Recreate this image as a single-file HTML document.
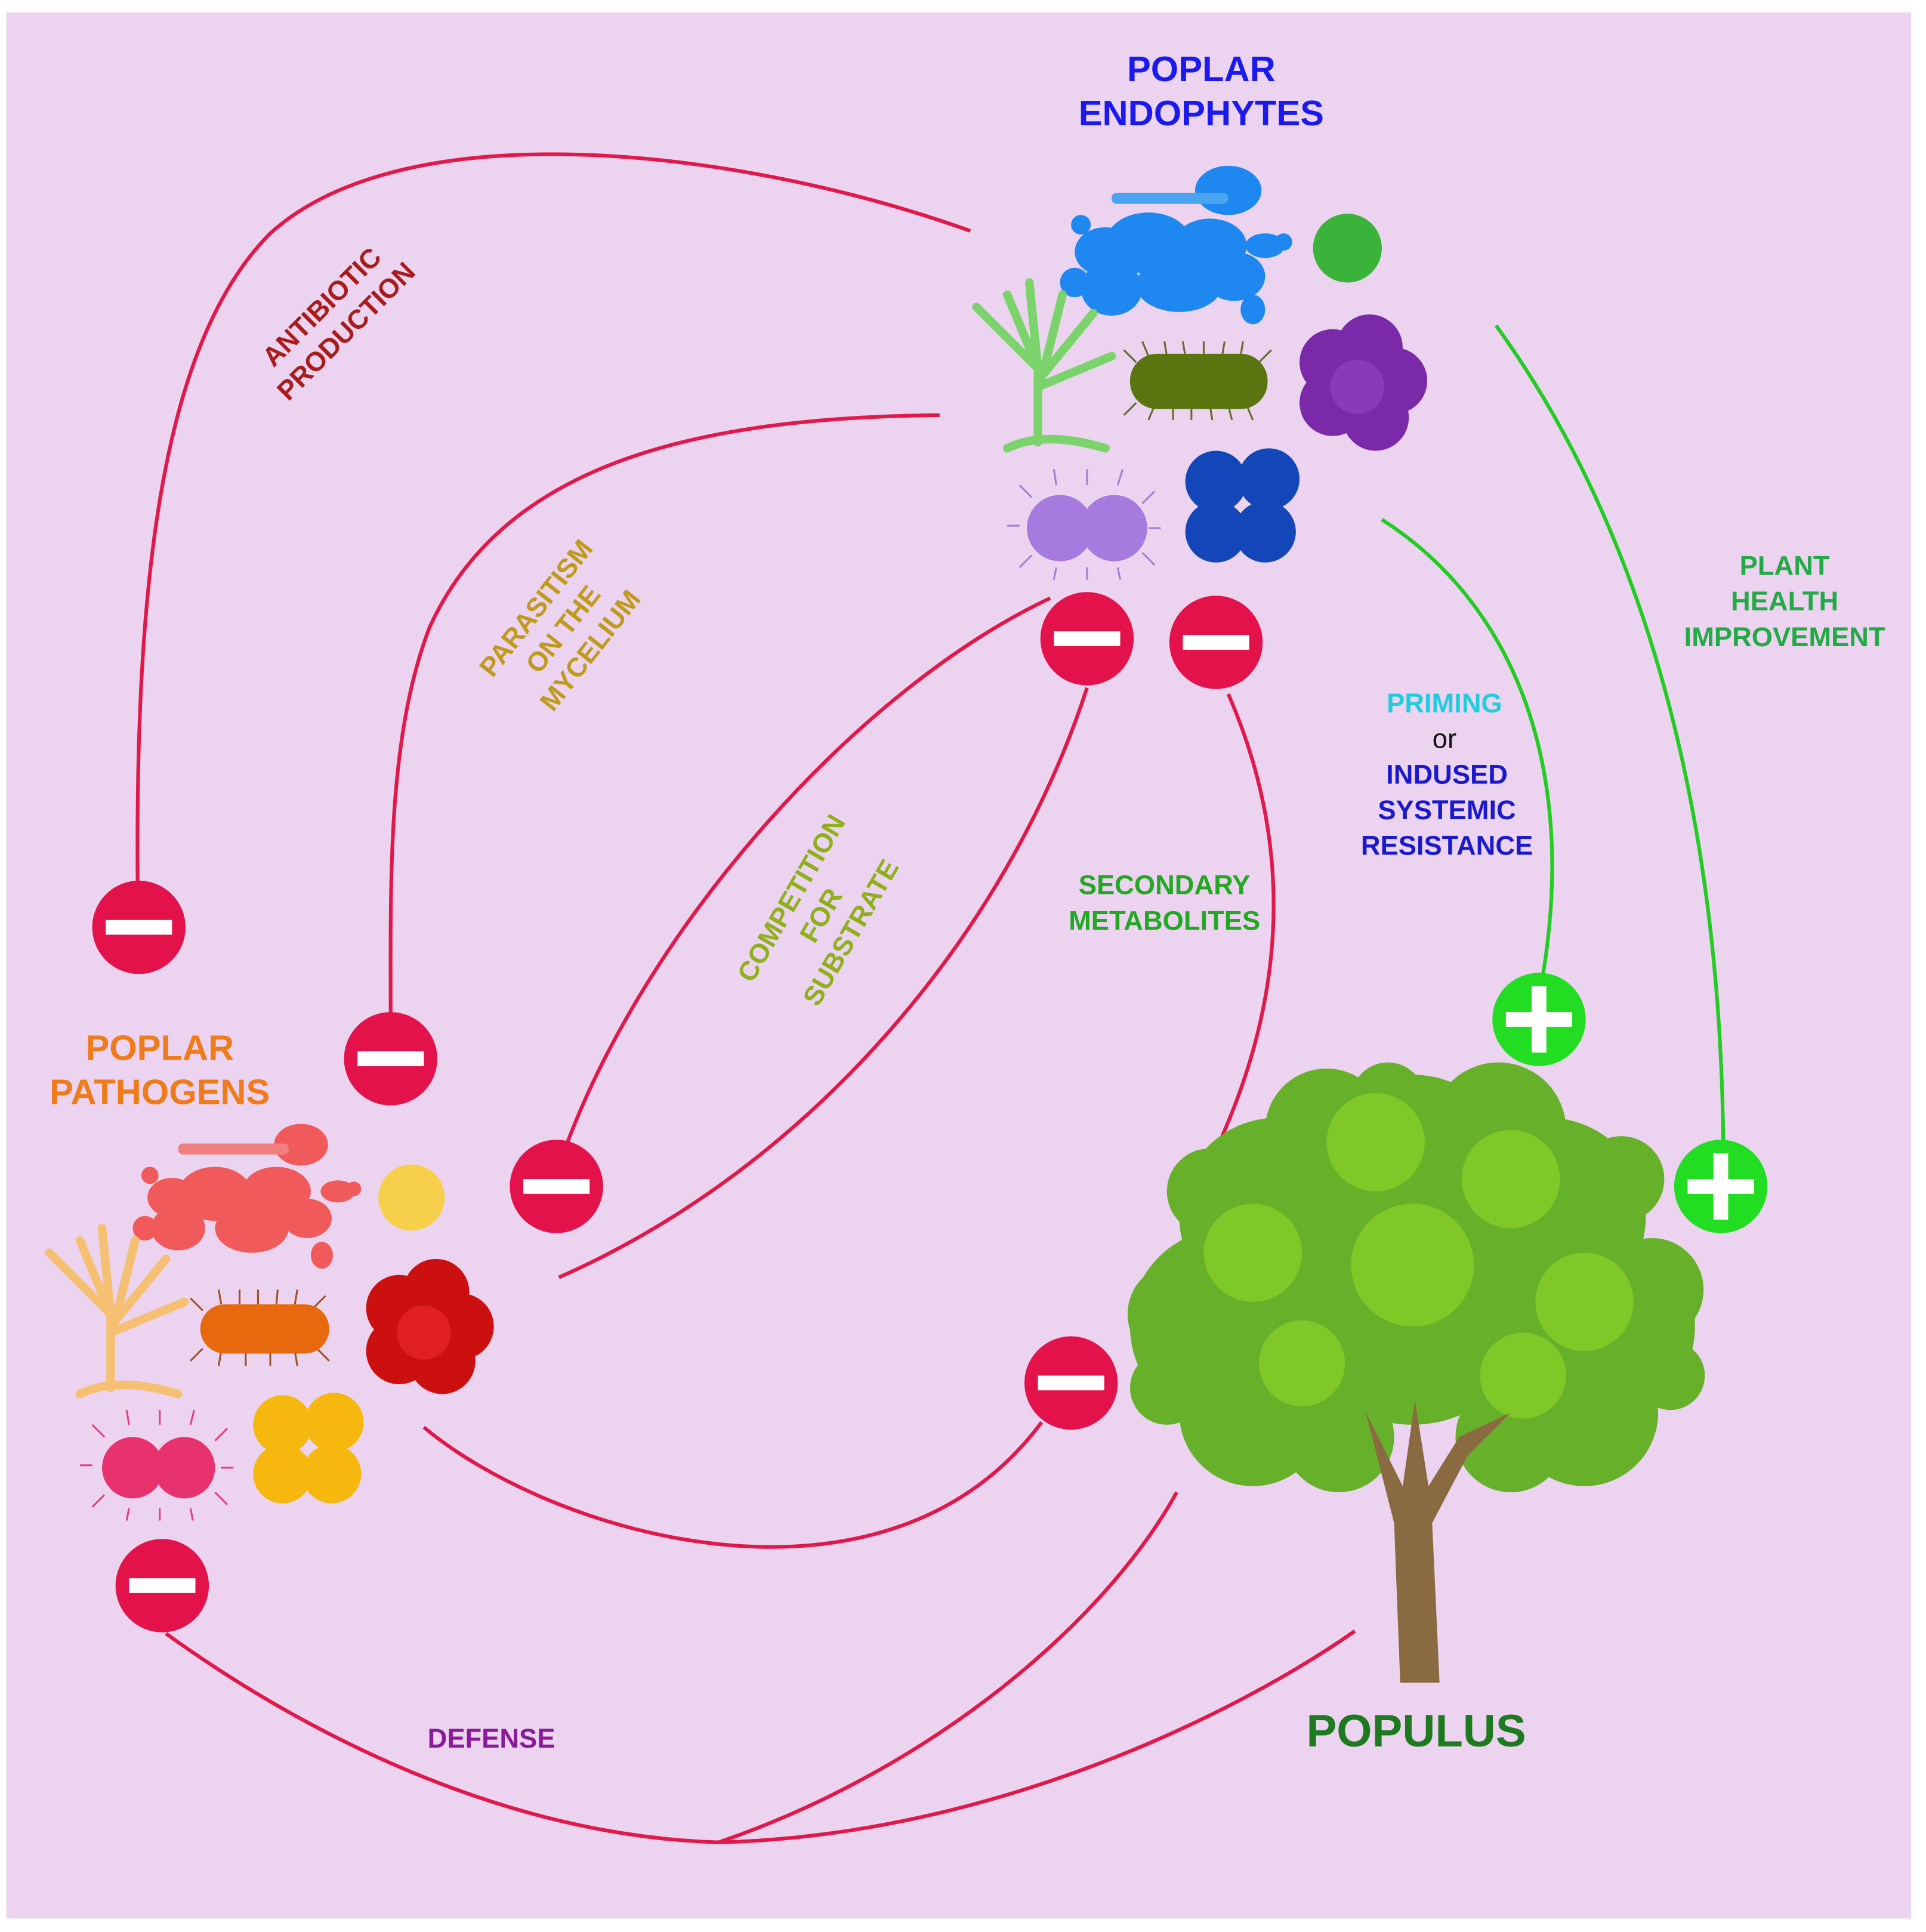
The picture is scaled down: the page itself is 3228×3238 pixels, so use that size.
<!DOCTYPE html>
<html><head><meta charset="utf-8"><style>html,body{margin:0;padding:0;background:#fff}svg{display:block}</style></head><body>
<svg width="3228" height="3238" viewBox="0 0 1568 1573" xmlns="http://www.w3.org/2000/svg" font-family="Liberation Sans, sans-serif" font-weight="bold">
<defs>
<g id="minus"><circle r="38" fill="#e3124b"/><rect x="-27" y="-6" width="54" height="12" fill="#fff"/></g>
<g id="plus"><circle r="38" fill="#22dd22"/><rect x="-27" y="-6" width="54" height="12" fill="#fff"/><rect x="-6" y="-27" width="12" height="54" fill="#fff"/></g>
</defs>
<rect x="0" y="0" width="1568" height="1573" fill="#fff"/>
<rect x="5" y="10" width="1551" height="1552" fill="#ecd4f0"/>

<g fill="none" stroke="#e0194a" stroke-width="3">
<path d="M790,188 C600,120 330,90 220,190 C130,280 110,480 112,720"/>
<path d="M765,338 C560,340 410,380 350,510 C315,600 318,720 318,825"/>
<path d="M855,487 C700,560 530,750 462,930"/>
<path d="M885,560 C820,760 660,950 455,1040"/>
<path d="M1000,565 C1050,680 1050,800 995,925"/>
<path d="M345,1162 C450,1250 720,1330 848,1158"/>
<path d="M135,1330 C260,1420 420,1495 585,1500 C800,1495 1000,1400 1103,1328"/>
<path d="M585,1500 C760,1440 900,1320 958,1215"/>
</g>
<g fill="none" stroke="#22cc22" stroke-width="3">
<path d="M1218,265 C1330,420 1400,640 1403,930"/>
<path d="M1125,423 C1230,490 1285,620 1256,795"/>
</g>

<g fill="#1e88f0">
<ellipse cx="1000" cy="155" rx="27" ry="20"/>
<rect x="905" y="157" width="95" height="9" rx="4" fill="#4aa4f0"/>
<ellipse cx="935" cy="198" rx="35" ry="25"/><ellipse cx="900" cy="205" rx="25" ry="20"/><ellipse cx="880" cy="183" rx="8" ry="8"/>
<ellipse cx="985" cy="200" rx="30" ry="22"/><ellipse cx="960" cy="232" rx="35" ry="22"/><ellipse cx="905" cy="235" rx="25" ry="22"/><ellipse cx="875" cy="230" rx="12" ry="12"/>
<ellipse cx="1005" cy="225" rx="25" ry="20"/><ellipse cx="1030" cy="200" rx="16" ry="10"/><ellipse cx="1045" cy="197" rx="7" ry="7"/><ellipse cx="1020" cy="252" rx="10" ry="12"/>
</g>
<circle cx="1097" cy="202" r="28" fill="#3ab33a"/>
<g stroke="#7bd46b" stroke-width="7" fill="none" stroke-linecap="round">
<path d="M845,360 L845,300 L820,240"/><path d="M845,300 L838,230"/><path d="M845,310 L890,255"/><path d="M845,300 L795,250"/><path d="M845,315 L905,290"/><path d="M820,365 Q850,350 900,365"/><path d="M850,300 L865,240"/>
</g>
<g stroke="#6a6a2a" stroke-width="1.5">
<path d="M925,295 L915,285 M935,290 L930,278 M950,290 L948,278 M965,290 L963,278 M980,290 L980,278 M995,290 L997,278 M1010,290 L1012,278 M1025,295 L1035,285 M925,328 L915,338 M940,330 L935,342 M955,330 L955,342 M970,330 L970,342 M985,330 L987,342 M1000,330 L1003,342 M1015,330 L1020,342"/>
</g>
<rect x="920" y="288" width="112" height="45" rx="22" fill="#5a7410"/>
<g fill="#7a2aa8"><circle cx="1085" cy="295" r="27"/><circle cx="1115" cy="283" r="27"/><circle cx="1135" cy="310" r="27"/><circle cx="1085" cy="328" r="27"/><circle cx="1120" cy="340" r="27"/><circle cx="1105" cy="315" r="22" fill="#8a3ab8"/></g>
<g stroke="#a080d8" stroke-width="1.5"><path d="M830,428 L820,428 M840,405 L830,395 M860,395 L858,382 M885,395 L885,382 M910,395 L914,382 M930,410 L940,400 M935,430 L945,430 M930,450 L940,460 M860,462 L858,472 M885,462 L885,472 M910,462 L912,472 M840,452 L830,462"/></g>
<circle cx="863" cy="430" r="27" fill="#a77ae0"/><circle cx="907" cy="430" r="27" fill="#a77ae0"/>
<g fill="#1346b8"><circle cx="990" cy="392" r="25"/><circle cx="1033" cy="390" r="25"/><circle cx="990" cy="433" r="25"/><circle cx="1030" cy="433" r="25"/></g>

<g fill="#f05a5a">
<ellipse cx="245" cy="932" rx="22" ry="17"/>
<rect x="145" y="931" width="90" height="9" rx="4" fill="#f08080"/>
<ellipse cx="175" cy="972" rx="30" ry="22"/><ellipse cx="140" cy="975" rx="20" ry="16"/><ellipse cx="122" cy="957" rx="7" ry="7"/>
<ellipse cx="225" cy="970" rx="28" ry="20"/><ellipse cx="205" cy="1000" rx="30" ry="20"/><ellipse cx="145" cy="1000" rx="22" ry="18"/><ellipse cx="118" cy="1000" rx="10" ry="10"/>
<ellipse cx="250" cy="992" rx="20" ry="16"/><ellipse cx="275" cy="970" rx="14" ry="9"/><ellipse cx="288" cy="968" rx="6" ry="6"/><ellipse cx="262" cy="1022" rx="9" ry="11"/>
</g>
<circle cx="335" cy="975" r="27" fill="#f6d04a"/>
<g stroke="#f5c072" stroke-width="7" fill="none" stroke-linecap="round">
<path d="M90,1130 L90,1070 L65,1010"/><path d="M90,1070 L83,1000"/><path d="M90,1080 L135,1025"/><path d="M90,1070 L40,1020"/><path d="M90,1085 L150,1060"/><path d="M65,1135 Q95,1120 145,1135"/><path d="M95,1070 L110,1010"/>
</g>
<g stroke="#a05020" stroke-width="1.5"><path d="M165,1067 L155,1057 M180,1062 L178,1050 M195,1062 L195,1050 M210,1062 L210,1050 M225,1062 L226,1050 M240,1062 L242,1050 M255,1065 L265,1055 M165,1098 L155,1108 M180,1100 L178,1112 M200,1100 L200,1112 M220,1100 L220,1112 M240,1100 L242,1112 M258,1098 L268,1108"/></g>
<rect x="163" y="1062" width="105" height="40" rx="20" fill="#e8680e"/>
<g fill="#cc0f0f"><circle cx="325" cy="1065" r="27"/><circle cx="355" cy="1052" r="27"/><circle cx="375" cy="1080" r="27"/><circle cx="325" cy="1100" r="27"/><circle cx="360" cy="1108" r="27"/><circle cx="345" cy="1085" r="22" fill="#e02020"/></g>
<g stroke="#e04080" stroke-width="1.5"><path d="M75,1193 L65,1193 M85,1170 L75,1160 M105,1160 L103,1148 M130,1160 L130,1148 M155,1160 L158,1148 M175,1173 L185,1163 M180,1195 L190,1195 M175,1215 L185,1225 M105,1228 L103,1238 M130,1228 L130,1238 M155,1228 L157,1238 M85,1217 L75,1227"/></g>
<circle cx="108" cy="1195" r="25" fill="#e8326e"/><circle cx="150" cy="1195" r="25" fill="#e8326e"/>
<g fill="#f6b80e"><circle cx="230" cy="1160" r="24"/><circle cx="272" cy="1158" r="24"/><circle cx="230" cy="1200" r="24"/><circle cx="270" cy="1200" r="24"/></g>

<!-- tree -->
<g fill="#66b02a">
<circle cx="1150" cy="960" r="85"/><circle cx="1040" cy="990" r="80"/><circle cx="1260" cy="990" r="80"/><circle cx="1000" cy="1080" r="80"/><circle cx="1300" cy="1080" r="80"/><circle cx="1150" cy="1060" r="100"/><circle cx="1020" cy="1150" r="60"/><circle cx="1290" cy="1150" r="60"/><circle cx="1090" cy="1170" r="45"/><circle cx="1230" cy="1170" r="45"/><circle cx="1080" cy="920" r="50"/><circle cx="1220" cy="920" r="55"/><circle cx="1345" cy="1050" r="42"/><circle cx="960" cy="1070" r="42"/><circle cx="950" cy="1130" r="30"/><circle cx="1360" cy="1120" r="28"/><circle cx="1130" cy="895" r="30"/><circle cx="1320" cy="960" r="35"/><circle cx="985" cy="970" r="35"/>
</g>
<g fill="#80c828"><circle cx="1120" cy="930" r="40"/><circle cx="1230" cy="960" r="40"/><circle cx="1020" cy="1020" r="40"/><circle cx="1150" cy="1030" r="50"/><circle cx="1290" cy="1060" r="40"/><circle cx="1060" cy="1110" r="35"/><circle cx="1240" cy="1120" r="35"/></g>
<g fill="#8a6a40"><path d="M1140,1370 L1172,1370 L1166,1240 L1195,1185 L1230,1150 L1188,1170 L1163,1210 L1152,1140 L1142,1210 L1112,1150 L1135,1240 Z"/></g>

<use href="#minus" x="885" y="520"/><use href="#minus" x="990" y="523"/><use href="#minus" x="113" y="755"/><use href="#minus" x="318" y="862"/><use href="#minus" x="453" y="966"/><use href="#minus" x="872" y="1126"/><use href="#minus" x="132" y="1291"/>
<use href="#plus" x="1253" y="830"/><use href="#plus" x="1401" y="966"/>

<g text-anchor="middle">
<text x="978" y="66" font-size="29" fill="#1a1aee">POPLAR</text>
<text x="978" y="102" font-size="29" fill="#1a1aee">ENDOPHYTES</text>
<text x="130" y="863" font-size="29" fill="#f07b1a">POPLAR</text>
<text x="130" y="899" font-size="29" fill="#f07b1a">PATHOGENS</text>
<text x="1153" y="1422" font-size="37" fill="#1e7a1e">POPULUS</text>
<text x="948" y="728" font-size="22" fill="#22a822">SECONDARY</text>
<text x="948" y="757" font-size="22" fill="#22a822">METABOLITES</text>
<text x="1176" y="580" font-size="22" fill="#22ccdd">PRIMING</text>
<text x="1176" y="609" font-size="22" fill="#111" font-weight="normal">or</text>
<text x="1178" y="638" font-size="22" fill="#1a1acc">INDUSED</text>
<text x="1178" y="667" font-size="22" fill="#1a1acc">SYSTEMIC</text>
<text x="1178" y="696" font-size="22" fill="#1a1acc">RESISTANCE</text>
<text x="1453" y="468" font-size="22" fill="#22aa44">PLANT</text>
<text x="1453" y="497" font-size="22" fill="#22aa44">HEALTH</text>
<text x="1453" y="526" font-size="22" fill="#22aa44">IMPROVEMENT</text>
<text x="400" y="1423" font-size="22" fill="#8a1a9a">DEFENSE</text>
<g transform="translate(270,258) rotate(-45)" fill="#a81c1c" font-size="22"><text y="-4">ANTIBIOTIC</text><text y="24">PRODUCTION</text></g>
<g transform="translate(458,512) rotate(-52)" fill="#c09a1c" font-size="22"><text y="-20">PARASITISM</text><text y="8">ON THE</text><text y="36">MYCELIUM</text></g>
<g transform="translate(668,745) rotate(-60)" fill="#8fb01c" font-size="22"><text y="-20">COMPETITION</text><text y="8">FOR</text><text y="36">SUBSTRATE</text></g>
</g>
</svg>
</body></html>
